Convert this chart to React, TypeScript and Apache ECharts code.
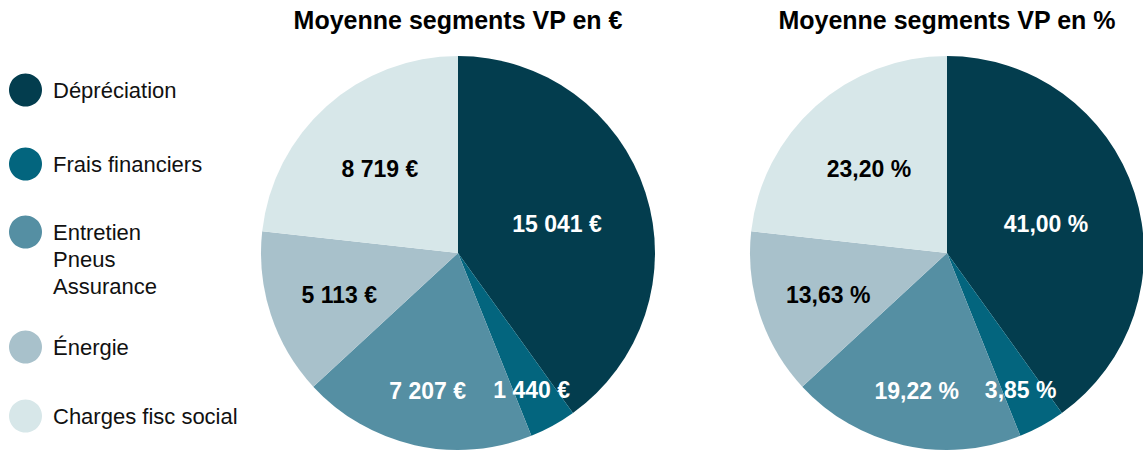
import React, { useEffect, useRef } from "react";
import * as echarts from "echarts";

const categories = [
  "Dépréciation",
  "Frais financiers",
  "Entretien\nPneus\nAssurance",
  "Énergie",
  "Charges fisc social",
];
const valuesEuro = [15041, 1440, 7207, 5113, 8719];
const valuesPct = [41.0, 3.85, 19.22, 13.63, 23.2];
const titles = ["Moyenne segments VP en €", "Moyenne segments VP en %"];

const colors = ["#033d4e", "#03657e", "#558fa3", "#a8c1cb", "#d7e7e9"];
const labelColors = ["#ffffff", "#ffffff", "#ffffff", "#000000", "#000000"];

// layout
const FONT = "'Liberation Sans', Arial, Helvetica, sans-serif";
const PIE_CENTERS = [
  [458, 253],
  [947, 253],
];
const PIE_R = 197;
const LABEL_RADII = [104, 153, 138, 125, 117];
const LABEL_DY = 3;
const LEGEND_Y = [90, 164, 232, 347, 416];
const LINE_H = 27;

const fmtEuro = (v: number) =>
  String(v).replace(/\B(?=(\d{3})+(?!\d))/g, " ") + " €";
const fmtPct = (v: number) => v.toFixed(2).replace(".", ",") + " %";

export default function App() {
  const ref = useRef<HTMLDivElement>(null);

  useEffect(() => {
    document.body.style.margin = "0";
    if (!ref.current) return;
    const chart = echarts.init(ref.current, undefined, { renderer: "svg" });
    const total = valuesEuro.reduce((a, b) => a + b, 0);

    const labelLayout = (params: any) => {
      const c = PIE_CENTERS[params.seriesIndex];
      const idx = params.dataIndex;
      let cum = 0;
      for (let i = 0; i < idx; i++) cum += valuesEuro[i];
      const mid = ((cum + valuesEuro[idx] / 2) / total) * Math.PI * 2;
      const r = LABEL_RADII[idx];
      return {
        x: c[0] + r * Math.sin(mid),
        y: c[1] - r * Math.cos(mid) + LABEL_DY,
        align: "center",
        verticalAlign: "middle",
      };
    };

    const makeSeries = (si: number) => ({
      type: "pie",
      center: PIE_CENTERS[si],
      radius: PIE_R,
      startAngle: 90,
      clockwise: true,
      avoidLabelOverlap: false,
      emphasis: { disabled: true },
      itemStyle: { borderWidth: 0 },
      labelLine: { show: false },
      labelLayout,
      data: categories.map((name, i) => ({
        name,
        value: valuesEuro[i],
        itemStyle: { color: colors[i] },
        label: {
          show: true,
          position: "inside",
          color: labelColors[i],
          fontFamily: FONT,
          fontWeight: "bold",
          fontSize: 23,
          formatter: () =>
            si === 0 ? fmtEuro(valuesEuro[i]) : fmtPct(valuesPct[i]),
        },
      })),
    });

    chart.setOption({
      animation: false,
      backgroundColor: "#ffffff",
      title: titles.map((t, i) => ({
        text: t,
        left: PIE_CENTERS[i][0],
        top: 7,
        padding: 0,
        textAlign: "center",
        textStyle: {
          fontFamily: FONT,
          fontWeight: "bold",
          fontSize: 25,
          color: "#000000",
        },
      })),
      legend: categories.map((name, i) => {
        const lines = name.split("\n").length;
        const blank = lines - 1; // blank lines above so first line sits on the icon
        const boxH = (lines + blank) * LINE_H;
        const extraTop = Math.max(0, boxH / 2 - 16.5);
        return {
          data: [name],
          orient: "vertical",
          left: 9,
          top: LEGEND_Y[i] - 16.5 - extraTop,
          padding: 0,
          itemWidth: 45,
          itemHeight: 33,
          icon: "circle",
          selectedMode: false,
          formatter: (n: string) => "\n".repeat(blank) + n,
          textStyle: {
            fontFamily: FONT,
            fontSize: 22,
            color: "#111111",
            lineHeight: LINE_H,
          },
        };
      }),
      series: [makeSeries(0), makeSeries(1)],
    });

    return () => chart.dispose();
  }, []);

  return <div ref={ref} style={{ width: 1143, height: 451 }} />;
}
